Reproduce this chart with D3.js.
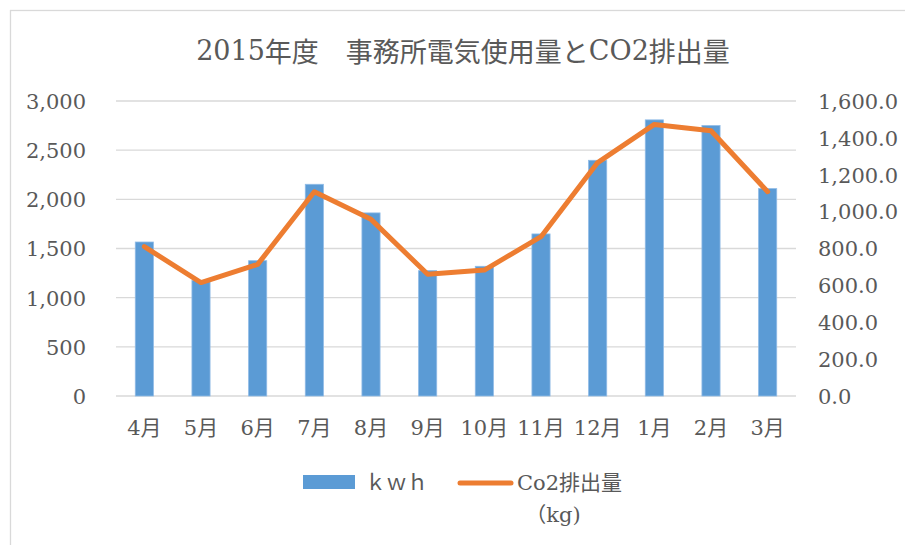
<!DOCTYPE html>
<html><head><meta charset="utf-8">
<script src="https://cdn.jsdelivr.net/npm/d3@7"></script>
<style>
body{margin:0;background:#fff;}
text,tspan{font-family:"DejaVu Serif","Noto Sans CJK JP",serif;fill:#595959;}
tspan.lat{font-family:"DejaVu Serif",serif;}
tspan.cjk{font-family:"Noto Sans CJK JP",sans-serif;}
</style></head>
<body><svg id="c" width="905" height="545"></svg>
<script>
const title = "2015年度　事務所電気使用量とCO2排出量";
const months = ["4月","5月","6月","7月","8月","9月","10月","11月","12月","1月","2月","3月"];
const kwh = [1566,1175,1376,2153,1862,1275,1319,1648,2397,2808,2750,2109];
const co2 = [810,615,714,1108,958,660,683,864,1266,1473,1439,1108];
const leftTicks = [0,500,1000,1500,2000,2500,3000];
const rightTicks = [0,200,400,600,800,1000,1200,1400,1600];
const seriesNames = ["ｋｗｈ","Co2排出量","（kg)"];
const barColor = "#5B9BD5", lineColor = "#ED7D31";

// split a string into Latin / CJK runs and add them as tspans
function runs(sel, str){
  const parts = str.match(/[\u0000-\u024F]+|[^\u0000-\u024F]+/g) || [];
  parts.forEach(p=>{
    sel.append("tspan").attr("class", /[\u0000-\u024F]/.test(p[0]) ? "lat" : "cjk").text(p);
  });
}

const svg = d3.select("#c");
svg.append("rect").attr("x",10.5).attr("y",10.5).attr("width",910).attr("height",560)
  .attr("fill","#fff").attr("stroke","#d9d9d9").attr("stroke-width",1.3);

const x = d3.scaleBand().domain(months).range([116,796]).paddingInner(0.68).paddingOuter(0.34);
const xp = d3.scalePoint().domain(months).range([116,796]).padding(0.5);
const yL = d3.scaleLinear().domain([0,3000]).range([396,101]);
const yR = d3.scaleLinear().domain([0,1600]).range([396,101]);

// gridlines
svg.append("g").selectAll("line").data(leftTicks).join("line")
  .attr("x1",116).attr("x2",796).attr("y1",d=>yL(d)).attr("y2",d=>yL(d))
  .attr("stroke","#d9d9d9").attr("stroke-width",1.3);

// left axis
const fmtL = d3.format(",");
const axL = svg.append("g").attr("transform","translate(116,0)")
  .call(d3.axisLeft(yL).tickValues(leftTicks).tickFormat(fmtL).tickSize(0).tickPadding(30));
axL.select(".domain").remove();
axL.selectAll("text").style("font-size","21px").attr("fill","#595959").attr("dy","0.35em");

// right axis
const fmtR = d3.format(",.1f");
const axR = svg.append("g").attr("transform","translate(796,0)")
  .call(d3.axisRight(yR).tickValues(rightTicks).tickFormat(fmtR).tickSize(0).tickPadding(22));
axR.select(".domain").remove();
axR.selectAll("text").style("font-size","21px").attr("fill","#595959").attr("dy","0.35em");

// bottom axis
const axB = svg.append("g").attr("transform","translate(0,396)")
  .call(d3.axisBottom(x).tickSize(0).tickPadding(24));
axB.select(".domain").remove();
axB.selectAll("text").style("font-size","21px").attr("fill","#595959");

// bars
svg.append("g").selectAll("rect").data(kwh).join("rect")
  .attr("x",(d,i)=>x(months[i])).attr("width",x.bandwidth())
  .attr("y",d=>yL(d)).attr("height",d=>yL(0)-yL(d))
  .attr("fill",barColor).attr("stroke","#8fbbe6").attr("stroke-width",0.8);

// line
const line = d3.line().x((d,i)=>xp(months[i])).y(d=>yR(d));
svg.append("path").datum(co2).attr("d",line).attr("fill","none")
  .attr("stroke",lineColor).attr("stroke-width",5).attr("stroke-linejoin","round").attr("stroke-linecap","round");

// title
const t = svg.append("text").attr("x",463).attr("y",50).attr("text-anchor","middle")
  .attr("dominant-baseline","central").style("font-size","27px");
runs(t, title);

// legend
const lg = svg.append("g");
lg.append("rect").attr("x",303).attr("y",475).attr("width",52).attr("height",14).attr("fill",barColor);
lg.append("text").attr("x",365).attr("y",483).attr("dy","0.35em").style("font-size","21px").text(seriesNames[0]);
lg.append("line").attr("x1",460).attr("x2",511).attr("y1",483).attr("y2",483)
  .attr("stroke",lineColor).attr("stroke-width",5).attr("stroke-linecap","round");
const l2 = lg.append("text").attr("x",517).attr("y",483).attr("dy","0.35em").style("font-size","21px");
runs(l2, seriesNames[1]);
const l3 = lg.append("text").attr("x",553).attr("y",515).attr("dy","0.35em").attr("text-anchor","middle").style("font-size","21px");
runs(l3, seriesNames[2]);
</script></body></html>
